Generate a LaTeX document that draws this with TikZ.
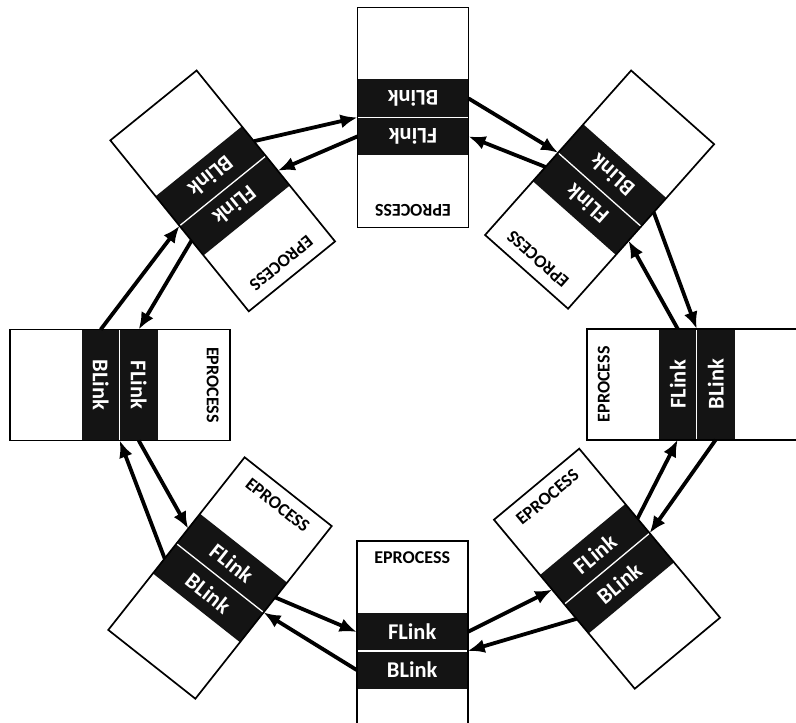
\documentclass[tikz,border=0pt]{standalone}
\usepackage{fontspec}
\setmainfont{Carlito}
\usetikzlibrary{arrows.meta}
\tikzset{
  blockline/.style={draw=black, line width=1.7pt},
  bandfill/.style={fill=black!92},
  divline/.style={draw=white, line width=1.3pt},
  linktext/.style={text=white, font=\bfseries\fontsize{22.5}{22.5}\selectfont, inner sep=0pt},
  eptext/.style={text=black, font=\bfseries\fontsize{18}{18}\selectfont, inner sep=0pt},
  arr/.style={line width=3.8pt, -{Latex[length=17pt,width=14pt]}}
}
\newcommand\eblock[4]{%
  \begin{scope}[shift={(#2,-#3)}, rotate=#4, transform shape]
    \fill[white] (-55.5,-110) rectangle (55.5,110);
    \fill[bandfill] (-55.5,-38) rectangle (55.5,38);
    \draw[divline] (-55.5,0) -- (55.5,0);
    \draw[blockline] (-55.5,-110) rectangle (55.5,110);
    \node[linktext] (#1-f) at (0,19) {FLink};
    \node[linktext] (#1-b) at (0,-19) {BLink};
    \node[eptext] (#1-e) at (0,93) {EPROCESS};
    \coordinate (#1-bo) at (-55.5,-19);
    \coordinate (#1-fi) at (-55.5,19);
    \coordinate (#1-dv) at (55.5,0);
    \coordinate (#1-fo) at (55.5,19);
  \end{scope}}
\begin{document}
\begin{tikzpicture}[x=1pt,y=1pt]
\useasboundingbox (0,0) rectangle (796,-723);
\clip (0,0) rectangle (796,-723);
\fill[white] (0,0) rectangle (796,-723);
\eblock{Bo}{412.2}{651}{0}
\eblock{BL}{220}{578}{-38.3}
\eblock{L}{119.7}{385}{-90}
\eblock{TL}{222.7}{190.9}{-141}
\eblock{T}{413}{117.4}{180}
\eblock{TR}{599.6}{189.6}{138.4}
\eblock{R}{696.7}{384.3}{90}
\eblock{BR}{607}{568.7}{39.8}
\foreach \a/\b in {Bo/BL, BL/L, L/TL, TL/T, T/TR, TR/R, R/BR, BR/Bo}{
  \draw[arr] (\a-bo) -- (\b-dv);
  \draw[arr] (\b-fo) -- (\a-fi);
}
\end{tikzpicture}
\end{document}
